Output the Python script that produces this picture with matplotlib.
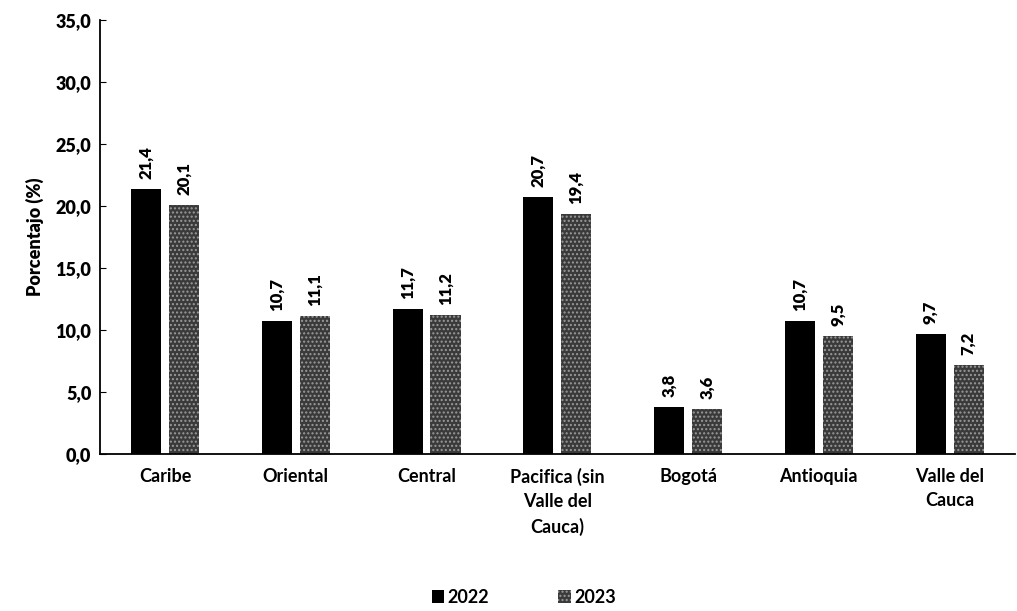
import numpy as np
import matplotlib
matplotlib.use("Agg")
import matplotlib.pyplot as plt
from matplotlib.patches import Patch

# data
categories = ["Caribe", "Oriental", "Central", "Pacifica (sin\nValle del\nCauca)",
              "Bogotá", "Antioquia", "Valle del\nCauca"]
values_2022 = [21.4, 10.7, 11.7, 20.7, 3.8, 10.7, 9.7]
values_2023 = [20.1, 11.1, 11.2, 19.4, 3.6, 9.5, 7.2]
y_ticks = [0, 5, 10, 15, 20, 25, 30, 35]

plt.rcParams["font.family"] = ["Lato", "DejaVu Sans"]
plt.rcParams["font.weight"] = "bold"


def fmt(v):
    return f"{v:.1f}".replace(".", ",")


fig = plt.figure(figsize=(10.17, 6.11), dpi=100)
ax = fig.add_axes([0.098, 0.257, 0.9, 0.71])

x = np.arange(len(categories))
w = 0.23
gap = 0.03
b1 = ax.bar(x - w / 2 - gap, values_2022, w, color="black")
b2 = ax.bar(x + w / 2 + gap, values_2023, w, color="#3a3a3a",
            hatch="....", edgecolor="#9a9a9a", linewidth=0)

for bars, vals in ((b1, values_2022), (b2, values_2023)):
    for rect, v in zip(bars, vals):
        ax.text(rect.get_x() + rect.get_width() / 2, v + 0.8, fmt(v),
                rotation=90, ha="center", va="bottom", fontsize=12,
                fontweight="heavy")

ax.set_xlim(-0.5, len(categories) - 0.5)
ax.set_ylim(0, 35)
ax.set_yticks(y_ticks)
ax.set_yticklabels([fmt(t) for t in y_ticks], fontsize=13, fontweight="heavy")
ax.set_xticks(x)
ax.set_xticklabels(categories, fontsize=13, fontweight="bold", linespacing=1.5)
ax.tick_params(axis="x", length=0, pad=10)
ax.tick_params(axis="y", length=4, direction="in", pad=6)
ax.set_ylabel("Porcentajo (%)", fontsize=13, fontweight="heavy", labelpad=8)

for s in ("top", "right"):
    ax.spines[s].set_visible(False)
ax.spines["left"].set_linewidth(1.3)
ax.spines["bottom"].set_linewidth(1.3)

handles = [Patch(facecolor="black", label="2022"),
           Patch(facecolor="#3a3a3a", hatch="....", edgecolor="#9a9a9a",
                 linewidth=0, label="2023")]
fig.legend(handles=handles, loc="center", bbox_to_anchor=(0.515, 0.022),
           ncol=2, frameon=False, fontsize=13, handlelength=0.7,
           handleheight=0.7, handletextpad=0.2, columnspacing=3.8)

fig.savefig("out.png", dpi=100)
